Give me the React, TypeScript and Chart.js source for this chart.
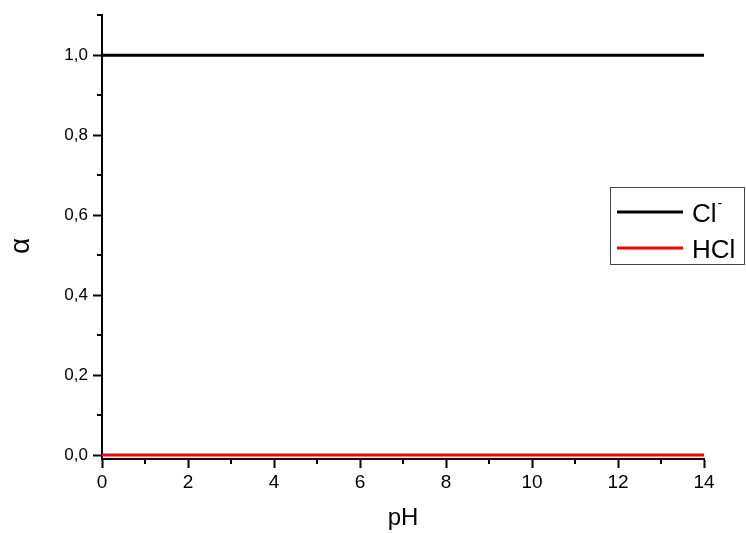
import React, { useEffect, useRef } from "react";
import { Chart, registerables } from "chart.js";

Chart.register(...registerables);

const pH = [0, 2, 4, 6, 8, 10, 12, 14];
const alphaCl = [1, 1, 1, 1, 1, 1, 1, 1];
const alphaHCl = [0, 0, 0, 0, 0, 0, 0, 0];
const seriesLabels = ["Cl⁻", "HCl"];
const seriesColors = ["#000000", "#ff0000"];
const yTickValues = [0, 0.2, 0.4, 0.6, 0.8, 1.0];
const yTickLabels = ["0,0", "0,2", "0,4", "0,6", "0,8", "1,0"];
const xMinorValues = [1, 3, 5, 7, 9, 11, 13];
const yMinorValues = [0.1, 0.3, 0.5, 0.7, 0.9, 1.1];
const yTitle = "α";
const xTitle = "pH";

const FONT = "'Liberation Sans', Arial, sans-serif";

const minorTicks = {
  id: "minorTicks",
  afterDraw(chart: any) {
    const ctx = chart.ctx;
    const xs = chart.scales.x;
    const ys = chart.scales.y;
    const area = chart.chartArea;
    ctx.save();
    ctx.strokeStyle = "#000";
    ctx.lineWidth = 2;
    xMinorValues.forEach((v) => {
      const px = Math.round(xs.getPixelForValue(v));
      ctx.beginPath();
      ctx.moveTo(px, area.bottom);
      ctx.lineTo(px, area.bottom + 5);
      ctx.stroke();
    });
    yMinorValues.forEach((v) => {
      const py = Math.round(ys.getPixelForValue(v));
      ctx.beginPath();
      ctx.moveTo(area.left, py);
      ctx.lineTo(area.left - 5, py);
      ctx.stroke();
    });
    // y axis title
    ctx.fillStyle = "#000";
    ctx.font = `28px ${FONT}`;
    ctx.textAlign = "center";
    ctx.textBaseline = "middle";
    ctx.translate(21, 246);
    ctx.rotate(-Math.PI / 2);
    ctx.fillText(yTitle, 0, 0);
    ctx.restore();
  },
};

const boxLegend = {
  id: "boxLegend",
  afterDraw(chart: any) {
    const ctx = chart.ctx;
    ctx.save();
    ctx.strokeStyle = "#444";
    ctx.lineWidth = 1;
    ctx.strokeRect(610.5, 187.5, 134, 77);
    const rows = [212, 248];
    const baselines = [222, 258];
    chart.data.datasets.forEach((ds: any, i: number) => {
      ctx.strokeStyle = ds.borderColor;
      ctx.lineWidth = 3;
      ctx.beginPath();
      ctx.moveTo(617, rows[i]);
      ctx.lineTo(683, rows[i]);
      ctx.stroke();
      ctx.fillStyle = "#000";
      ctx.textBaseline = "alphabetic";
      ctx.textAlign = "left";
      let label: string = ds.label;
      let sup = "";
      if (label.endsWith("⁻")) {
        label = label.slice(0, -1);
        sup = "-";
      }
      ctx.font = `26px ${FONT}`;
      ctx.fillText(label, 692, baselines[i]);
      if (sup) {
        const w = ctx.measureText(label).width;
        ctx.font = `14px ${FONT}`;
        ctx.fillText(sup, 692 + w + 1, baselines[i] - 14);
      }
    });
    ctx.restore();
  },
};

export default function App() {
  const ref = useRef<HTMLCanvasElement>(null);
  useEffect(() => {
    if (!ref.current) return;
    const chart = new Chart(ref.current, {
      type: "line",
      data: {
        labels: pH,
        datasets: [
          {
            label: seriesLabels[0],
            data: pH.map((x, i) => ({ x, y: alphaCl[i] })),
            borderColor: seriesColors[0],
            backgroundColor: seriesColors[0],
            borderWidth: 3,
            pointRadius: 0,
            fill: false,
          },
          {
            label: seriesLabels[1],
            data: pH.map((x, i) => ({ x, y: alphaHCl[i] })),
            borderColor: seriesColors[1],
            backgroundColor: seriesColors[1],
            borderWidth: 3,
            pointRadius: 0,
            fill: false,
          },
        ],
      },
      options: {
        animation: false,
        responsive: false,
        maintainAspectRatio: false,
        layout: { padding: { left: 0, right: 42, top: 15, bottom: 0 } },
        plugins: {
          legend: { display: false },
          tooltip: { enabled: false },
        },
        scales: {
          x: {
            type: "linear",
            min: 0,
            max: 14,
            ticks: {
              stepSize: 2,
              color: "#000",
              font: { family: FONT, size: 19 },
              padding: 3,
              maxRotation: 0,
            },
            grid: {
              drawOnChartArea: false,
              drawTicks: true,
              tickLength: 9,
              tickWidth: 2,
              tickColor: "#000",
            },
            border: { display: true, color: "#000", width: 2 },
            title: {
              display: true,
              text: xTitle,
              color: "#000",
              font: { family: FONT, size: 24 },
              padding: { top: 0, bottom: 0 },
            },
            afterFit(scale: any) {
              scale.height = 74;
            },
          },
          y: {
            type: "linear",
            min: -0.01,
            max: 1.1,
            afterBuildTicks(scale: any) {
              scale.ticks = yTickValues.map((v) => ({ value: v }));
            },
            ticks: {
              color: "#000",
              font: { family: FONT, size: 17 },
              padding: 5,
              callback: (v: any) => {
                const i = yTickValues.findIndex((t) => Math.abs(t - Number(v)) < 1e-6);
                return i >= 0 ? yTickLabels[i] : "";
              },
            },
            grid: {
              drawOnChartArea: false,
              drawTicks: true,
              tickLength: 9,
              tickWidth: 2,
              tickColor: "#000",
            },
            border: { display: true, color: "#000", width: 2 },
            title: { display: false },
            afterFit(scale: any) {
              scale.width = 102;
            },
          },
        },
      },
      plugins: [minorTicks, boxLegend],
    });
    return () => chart.destroy();
  }, []);
  return (
    <div style={{ position: "fixed", left: 0, top: 0, width: 746, height: 533, background: "#fff" }}>
      <canvas ref={ref} width={746} height={533} style={{ width: 746, height: 533 }} />
    </div>
  );
}
